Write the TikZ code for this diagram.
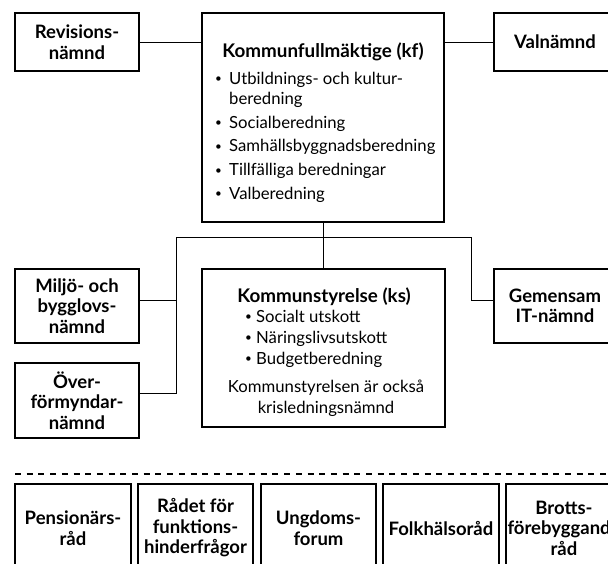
\documentclass[tikz,border=0pt]{standalone}
\usepackage{fontspec}
\setmainfont{Lato}
\newcommand{\blt}{\makebox[14pt][l]{\raisebox{1.2pt}{\scalebox{0.7}{\textbullet}}}}
\newcommand{\bltk}{\makebox[11pt][l]{\raisebox{1.2pt}{\scalebox{0.7}{\textbullet}}}}
\begin{document}
\begin{tikzpicture}[x=1pt,y=-1pt,
  box/.style={draw, line width=1.2pt, align=center, inner sep=0pt, font=\fontsize{18.5}{20.5}\selectfont\bfseries},
  conn/.style={line width=1pt},
  txt/.style={inner sep=0pt, font=\fontsize{16.7}{20}\selectfont},
  head/.style={inner sep=0pt, font=\fontsize{18.8}{20}\selectfont\bfseries}]
\useasboundingbox (0,0) rectangle (608,563);
\clip (0,0) rectangle (608,563);
% top row
\node[box, minimum width=124pt, minimum height=58pt] (rev) at (77,42) {Revisions-\\nämnd};
\node[box, minimum width=242pt, minimum height=209pt] (kf) at (323,117.5) {};
\node[box, minimum width=122pt, minimum height=58pt] (val) at (555,42) {Valnämnd};
\node[head, anchor=base] (kfh) at (323,57) {Kommunfullmäktige (kf)};
\node[txt, anchor=base west] (kfl) at (215,84) {\begin{tabular}[t]{@{}l@{}}
\blt Utbildnings- och kultur-\\
\hspace*{14pt}beredning\\[4pt]
\blt Socialberedning\\[3.5pt]
\blt Samhällsbyggnadsberedning\\[4pt]
\blt Tillfälliga beredningar\\[3.5pt]
\blt Valberedning
\end{tabular}};
% middle row
\node[box, minimum width=124pt, minimum height=74pt] (mil) at (77,306) {Miljö- och\\bygglovs-\\nämnd};
\node[box, minimum width=124pt, minimum height=75pt] (ov) at (77,400.5) {Över-\\förmyndar-\\nämnd};
\node[box, minimum width=243pt, minimum height=158pt] (ks) at (323.5,348) {};
\node[box, minimum width=122pt, minimum height=74pt] (gem) at (555,306) {Gemensam\\IT-nämnd};
\node[head, anchor=base] (ksh) at (324,302) {Kommunstyrelse (ks)};
\node[txt, anchor=base west] (ksl) at (245,322) {\begin{tabular}[t]{@{}l@{}}
\bltk Socialt utskott\\[1pt]
\bltk Näringslivsutskott\\[1pt]
\bltk Budgetberedning
\end{tabular}};
\node[txt, align=center, anchor=base] (ksn) at (326,413) {Kommunstyrelsen är också\\[1pt]krisledningsnämnd};
% connectors
\coordinate (bl) at (176,237);
\coordinate (br) at (471,237);
\draw[conn] (rev.east) -- (rev.east -| kf.west);
\draw[conn] (val.west -| kf.east) -- (val.west);
\draw[conn] (kf.south) -- (ks.north -| kf.south);
\draw[conn] ([yshift=7.5pt]ov.east) -| (bl) -- (br) |- ([yshift=6pt]gem.west);
\draw[conn] ([yshift=6pt]mil.east) -- ([yshift=6pt]mil.east -| bl);
% dashed separator
\coordinate (dl) at (15,474);
\coordinate (dr) at (608,474);
\draw[line width=1.2pt, dash pattern=on 6pt off 5.7pt] (dl) -- (dr);
% bottom row
\node[box, minimum width=116pt, minimum height=88pt] (pen) at (73,528) {Pensionärs-\\råd};
\node[box, minimum width=115pt, minimum height=88pt] (rad) at (195.5,528) {Rådet för\\funktions-\\hinderfrågor};
\node[box, minimum width=115pt, minimum height=88pt] (ung) at (318.5,528) {Ungdoms-\\forum};
\node[box, minimum width=116pt, minimum height=88pt] (fol) at (441,528) {Folkhälsoråd};
\node[box, minimum width=116pt, minimum height=88pt] (bro) at (564,528) {Brotts-\\förebyggande\\råd};
\end{tikzpicture}
\end{document}
